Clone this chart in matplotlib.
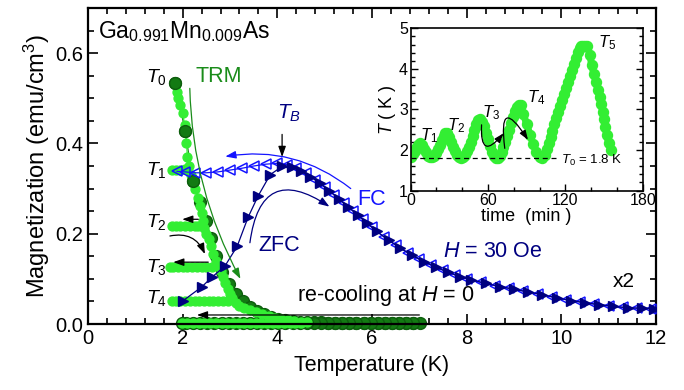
import matplotlib
matplotlib.use("Agg")
import matplotlib.pyplot as plt
from matplotlib.ticker import MultipleLocator
from matplotlib.patches import FancyArrowPatch

plt.rcParams['font.family'] = ['Liberation Sans', 'DejaVu Sans']
plt.rcParams['mathtext.fontset'] = 'custom'
plt.rcParams['mathtext.rm'] = 'Liberation Sans'
plt.rcParams['mathtext.it'] = 'Liberation Sans:italic'
plt.rcParams['mathtext.bf'] = 'Liberation Sans:bold'

LIME = '#33ee33'
DKGREEN = '#137a13'
TRMGREEN = '#1a8c1a'
BLUE = '#1414ff'
NAVY = '#000080'

# field-cooled magnetization (x2)
fc_T = [1.88, 2.05, 2.25, 2.5, 2.75, 3.0, 3.25, 3.5, 3.75, 4.0, 4.2, 4.4, 4.6, 4.8, 5.0,
        5.2, 5.4, 5.6, 5.8, 6.0, 6.25, 6.5, 6.75, 7.0, 7.25, 7.5, 7.75, 8.0, 8.3, 8.6,
        8.9, 9.2, 9.5, 9.8, 10.1, 10.4, 10.7, 11.0, 11.3, 11.6, 11.9]
fc_M = [0.338, 0.337, 0.335, 0.335, 0.337, 0.341, 0.345, 0.350, 0.354, 0.356, 0.353,
        0.345, 0.334, 0.320, 0.303, 0.286, 0.268, 0.250, 0.232, 0.214, 0.193, 0.175,
        0.158, 0.143, 0.130, 0.119, 0.109, 0.100, 0.092, 0.085, 0.079, 0.073, 0.067,
        0.060, 0.054, 0.049, 0.044, 0.040, 0.037, 0.035, 0.034]

# zero-field-cooled magnetization (x2)
zfc_T = [2.0, 2.4, 2.62, 2.89, 3.15, 3.38, 3.59, 3.85, 4.1, 4.3, 4.5, 4.7, 4.9, 5.1, 5.3,
         5.5, 5.7, 5.9, 6.1, 6.35, 6.6, 6.85, 7.1, 7.35, 7.6, 7.85, 8.1, 8.4, 8.7, 9.0,
         9.3, 9.6, 9.9, 10.2, 10.5, 10.8, 11.1, 11.4, 11.7, 11.95]
zfc_M = [0.051, 0.082, 0.104, 0.128, 0.172, 0.236, 0.283, 0.331, 0.349, 0.347, 0.338,
         0.326, 0.312, 0.295, 0.277, 0.259, 0.241, 0.223, 0.205, 0.186, 0.168, 0.152,
         0.138, 0.126, 0.115, 0.105, 0.098, 0.090, 0.083, 0.077, 0.071, 0.065, 0.058,
         0.052, 0.047, 0.043, 0.039, 0.036, 0.035, 0.034]

# TRM reference run: heating from T0 to 7 K, then re-cooling at H = 0
trm_T = [1.84, 2.05, 2.22, 2.37, 2.5, 2.6, 2.7, 2.83, 2.97, 3.12, 3.27, 3.42, 3.57, 3.72,
         3.87, 4.02, 4.17, 4.32, 4.47, 4.62, 4.77, 4.92, 5.07, 5.22, 5.37, 5.52, 5.67,
         5.82, 5.97, 6.12, 6.27, 6.42, 6.57, 6.72, 6.87, 7.02,
         6.87, 6.72, 6.57, 6.42, 6.27, 6.12, 5.97, 5.82, 5.67, 5.52, 5.37, 5.22, 5.07,
         4.92, 4.77, 4.62, 4.47, 4.32, 4.17, 4.02, 3.87, 3.72, 3.57, 3.42, 3.27, 3.12,
         2.97, 2.82, 2.67, 2.52, 2.37, 2.22, 2.07, 1.98]
trm_M = [0.534, 0.428, 0.316, 0.27, 0.228, 0.19, 0.15, 0.115, 0.088, 0.066, 0.05, 0.038,
         0.029, 0.022, 0.016, 0.011, 0.008, 0.006, 0.005, 0.004, 0.004, 0.004, 0.003,
         0.003, 0.003, 0.003, 0.003, 0.003, 0.003, 0.003, 0.003, 0.003, 0.003, 0.003,
         0.003, 0.003,
         0.002, 0.002, 0.002, 0.002, 0.002, 0.002, 0.002, 0.002, 0.002, 0.002, 0.002,
         0.002, 0.002, 0.002, 0.002, 0.002, 0.002, 0.002, 0.002, 0.002, 0.002, 0.002,
         0.002, 0.002, 0.002, 0.002, 0.002, 0.002, 0.002, 0.002, 0.002, 0.002, 0.002,
         0.002]

# memory run with stops at T1..T4 and final re-cooling at H = 0
mem_T = [1.87, 1.9, 1.95, 2.0, 2.04, 2.08, 2.1, 2.13,
         2.05, 1.95, 1.85, 1.78,
         2.18, 2.22, 2.27, 2.32, 2.37, 2.4, 2.42,
         2.33, 2.25, 2.15, 2.05, 1.95, 1.85, 1.77,
         2.45, 2.5, 2.55, 2.6, 2.65, 2.7, 2.73,
         2.62, 2.5, 2.4, 2.3, 2.2, 2.1, 2.0, 1.9, 1.8, 1.74,
         2.8, 2.85, 2.9, 2.95, 3.0, 3.05,
         2.95, 2.85, 2.75, 2.65, 2.55, 2.45, 2.35, 2.25, 2.15, 2.05, 1.95, 1.85, 1.78,
         3.12, 3.2, 3.3, 3.42, 3.55, 3.68, 3.82, 3.95, 4.08, 4.22, 4.36, 4.5, 4.62,
         4.5, 4.38, 4.26, 4.14, 4.02, 3.9, 3.78, 3.66, 3.54, 3.42, 3.3, 3.18, 3.06,
         2.94, 2.82, 2.7, 2.58, 2.46, 2.34, 2.22, 2.1, 1.98]
mem_M = [0.515, 0.5, 0.485, 0.468, 0.44, 0.4, 0.371, 0.35,
         0.343, 0.342, 0.342, 0.342,
         0.33, 0.316, 0.3, 0.28, 0.262, 0.245, 0.228,
         0.218, 0.217, 0.217, 0.217, 0.217, 0.217, 0.217,
         0.212, 0.2, 0.188, 0.172, 0.155, 0.14, 0.13,
         0.127, 0.127, 0.127, 0.127, 0.127, 0.127, 0.127, 0.127, 0.127, 0.127,
         0.118, 0.105, 0.09, 0.078, 0.066, 0.058,
         0.051, 0.051, 0.051, 0.051, 0.051, 0.051, 0.051, 0.051, 0.051, 0.051, 0.051,
         0.051, 0.051,
         0.046, 0.04, 0.035, 0.03, 0.026, 0.022, 0.018, 0.014, 0.011, 0.008, 0.006,
         0.005, 0.004,
         0.003, 0.003, 0.003, 0.003, 0.003, 0.003, 0.003, 0.003, 0.003, 0.003, 0.003,
         0.003, 0.003, 0.003, 0.003, 0.003, 0.003, 0.003, 0.003, 0.003, 0.003, 0.003]

# inset: temperature protocol vs time
time_min = [0, 1.5, 3, 4.5, 6, 7.5, 9, 10.5, 12, 13.5, 15, 16.5, 18, 19.5, 21, 22.5, 24,
            25.5, 27, 28.5, 30, 31.5, 33, 34.5, 36, 37.5, 39, 40.5, 42, 43.5, 45, 46.5,
            48, 49.5, 51, 52.5, 54, 55.5, 57, 58.5, 60, 61.5, 63, 64.5, 66, 67.5, 69,
            70.5, 72, 73.5, 75, 76.5, 78, 79.5, 81, 82.5, 84, 85.5, 87.4, 90, 92.5, 95,
            97.5, 100, 102, 104, 105.5, 107, 108.5, 110, 111.5, 113, 114.5, 116, 117.5,
            119, 120.5, 122, 123.5, 125, 126.5, 128, 129.5, 131, 132.5, 134, 135.5, 137,
            139.1, 140.4, 142.2, 143.8, 145.3, 146.6, 147.9, 148.9, 150, 151, 152, 153.6,
            155.2]
temp_K = [1.83, 1.90, 1.98, 2.06, 2.13, 2.16, 2.12, 2.03, 1.94, 1.86, 1.82, 1.82, 1.85,
          1.93, 2.03, 2.13, 2.24, 2.35, 2.43, 2.42, 2.33, 2.2, 2.08, 1.97, 1.88, 1.82,
          1.81, 1.82, 1.88, 1.97, 2.08, 2.2, 2.34, 2.5, 2.65, 2.74, 2.76, 2.7, 2.58,
          2.43, 2.27, 2.1, 1.96, 1.86, 1.81, 1.81, 1.85, 1.95, 2.07, 2.2, 2.35, 2.5, 2.66,
          2.82, 2.96, 3.06, 3.11, 3.11, 2.88, 2.64, 2.38, 2.15, 1.95, 1.82, 1.81, 1.88,
          2.03, 2.18, 2.33, 2.48, 2.63, 2.78, 2.93, 3.08, 3.23, 3.38, 3.53, 3.68, 3.83,
          3.98, 4.13, 4.28, 4.42, 4.52, 4.56, 4.56, 4.56, 4.56, 4.34, 4.09, 3.87, 3.67,
          3.48, 3.30, 3.13, 2.94, 2.76, 2.57, 2.37, 2.18, 2.0]

fig = plt.figure(figsize=(6.84, 3.9), dpi=100)
ax = fig.add_axes([0.1287, 0.1692, 0.8304, 0.8103])

ax.plot(mem_T, mem_M, '-o', color=LIME, mfc=LIME, mec=LIME, ms=6.4, lw=0.9, clip_on=False,
        zorder=2)
ax.plot(trm_T, trm_M, '-o', color=DKGREEN, mfc=DKGREEN, mec='#0d5e0d', ms=8.5, lw=0.8,
        clip_on=False, zorder=1.9)
ax.plot(trm_T[:3], trm_M[:3], 'o', color=DKGREEN, mec='#0d5e0d', ms=8.5, zorder=2.1)
ax.plot(fc_T, fc_M, '-<', color=BLUE, mfc='none', mec=BLUE, ms=7, mew=1.1, lw=0.9,
        zorder=3)
ax.plot(zfc_T, zfc_M, '->', color=NAVY, mfc=NAVY, mec=NAVY, ms=7, lw=0.9, zorder=3.1)

ax.set_xlim(0, 12)
ax.set_ylim(0, 0.7)
ax.xaxis.set_major_locator(MultipleLocator(2))
ax.xaxis.set_minor_locator(MultipleLocator(0.4))
ax.yaxis.set_major_locator(MultipleLocator(0.2))
ax.yaxis.set_minor_locator(MultipleLocator(0.05))
ax.tick_params(which='both', direction='in', top=True, right=True, width=1.2,
               labelsize=14.5)
ax.tick_params(which='major', length=7)
ax.tick_params(which='minor', length=4)
for sp in ax.spines.values():
    sp.set_linewidth(1.6)
ax.set_yticks([0.0, 0.2, 0.4, 0.6])
ax.set_yticklabels(['0.0', '0.2', '0.4', '0.6'])
ax.set_xlabel('Temperature (K)', fontsize=15.5, labelpad=5)
ax.set_ylabel('Magnetization (emu/cm$^3$)', fontsize=17, labelpad=2)


def arrow(a, b, rad, color='k', lw=0.9, ms=9):
    ax.add_patch(FancyArrowPatch(a, b, connectionstyle=f'arc3,rad={rad}',
                                 arrowstyle='-|>,head_length=0.7,head_width=0.25',
                                 mutation_scale=ms, lw=lw, color=color,
                                 shrinkA=0, shrinkB=0, zorder=4))


# sweep-direction arrows
arrow((5.55, 0.300), (2.9, 0.371), 0.22, color=BLUE)
arrow((3.42, 0.180), (5.1, 0.260), -0.8, color=NAVY)
arrow((2.15, 0.522), (3.22, 0.100), 0.12, color=TRMGREEN)
arrow((4.1, 0.420), (4.1, 0.370), 0.0)
arrow((2.33, 0.232), (1.99, 0.232), 0.0)
arrow((2.54, 0.137), (1.80, 0.137), 0.0)
arrow((1.73, 0.195), (2.47, 0.155), -0.4)
arrow((7.0, 0.020), (2.3, 0.020), 0.0)

ax.text(0.22, 0.647, r'$\mathrm{Ga_{0.991}Mn_{0.009}As}$', fontsize=16.5, va='center')
for lbl, y in [('0', 0.537), ('1', 0.330), ('2', 0.215), ('3', 0.115), ('4', 0.047)]:
    ax.text(1.22, y, f'$T_{lbl}$', fontsize=14, va='baseline')
ax.text(2.28, 0.537, 'TRM', fontsize=15.5, color=TRMGREEN, va='baseline')
ax.text(3.99, 0.455, '$T_B$', fontsize=15, color=NAVY, va='baseline')
ax.text(5.68, 0.263, 'FC', fontsize=15.5, color=BLUE, va='baseline')
ax.text(3.59, 0.161, 'ZFC', fontsize=15.5, color=NAVY, va='baseline')
ax.text(7.5, 0.148, '$H$ = 30 Oe', fontsize=15.5, color=NAVY, va='baseline')
ax.text(11.09, 0.082, 'x2', fontsize=15, va='baseline')
ax.text(4.42, 0.051, 're-cooling at $H$ = 0', fontsize=15.5, va='baseline')

# inset
ins = fig.add_axes([0.6004, 0.5115, 0.3392, 0.4159])
ins.plot(time_min, temp_K, '-o', color=LIME, mfc=LIME, mec=LIME, ms=7.2, lw=5)
ins.axhline(1.8, xmax=113 / 180, color='k', ls=(0, (4, 3)), lw=0.9)
ins.set_xlim(0, 180)
ins.set_ylim(1, 5)
ins.xaxis.set_major_locator(MultipleLocator(60))
ins.xaxis.set_minor_locator(MultipleLocator(20))
ins.yaxis.set_major_locator(MultipleLocator(1))
ins.yaxis.set_minor_locator(MultipleLocator(0.2))
ins.tick_params(which='both', direction='in', right=True, top=False, width=1,
                labelsize=11.5, pad=2)
ins.tick_params(which='major', length=5)
ins.tick_params(which='minor', length=3)
for sp in ins.spines.values():
    sp.set_linewidth(1.2)
ins.set_xlabel('time  (min )', fontsize=13, labelpad=0)
ins.set_ylabel('$T$ ( K )', fontsize=13, labelpad=1)


def iarrow(a, b, rad):
    ins.add_patch(FancyArrowPatch(a, b, connectionstyle=f'arc3,rad={rad}',
                                  arrowstyle='-|>,head_length=0.7,head_width=0.25',
                                  mutation_scale=8, lw=0.9, color='k',
                                  shrinkA=0, shrinkB=0, zorder=4))


iarrow((55, 2.62), (72, 2.41), 1.5)
iarrow((73, 2.04), (91, 2.25), -2.2)

for lbl, t, y in [('1', 7.2, 2.245), ('2', 27.9, 2.49), ('3', 55, 2.81),
                  ('4', 90, 3.18), ('5', 145, 4.54)]:
    ins.text(t, y, f'$T_{lbl}$', fontsize=12, va='baseline')
ins.text(117, 1.666, '$T_0$ = 1.8 K', fontsize=9.5, va='baseline')

fig.savefig('out.png', dpi=100)
